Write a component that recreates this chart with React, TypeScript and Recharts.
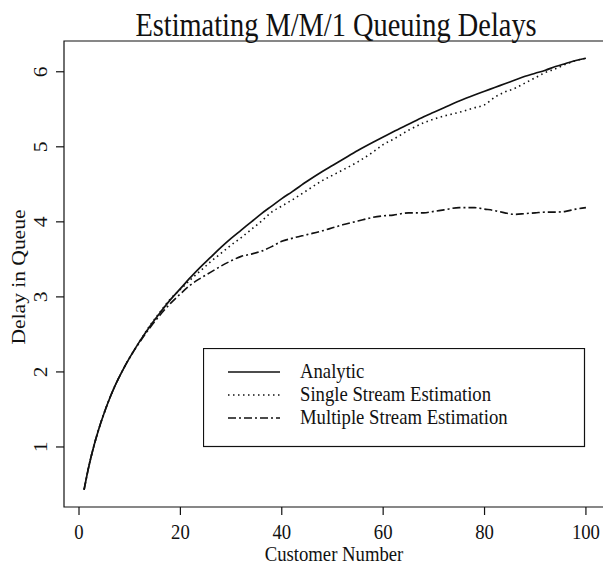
import React from 'react';
import { LineChart, Line, XAxis, YAxis, Legend, ReferenceArea } from 'recharts';

const customers = [
  1, 2, 3, 4, 5, 6, 7, 8, 9, 10, 12, 14, 16, 18, 20, 22, 24, 26, 28, 30, 32, 34, 36, 38, 40, 42, 45, 48, 50,
  52, 55, 58, 60, 62, 65, 68, 70, 72, 75, 78, 80, 82, 84, 86, 88, 90, 92, 94, 96, 98, 100,
];

const analytic = [
  0.43, 0.76, 1.03, 1.26, 1.46, 1.64, 1.8, 1.94, 2.07, 2.19, 2.41, 2.61, 2.79, 2.96, 3.11, 3.26, 3.4, 3.53,
  3.66, 3.78, 3.89, 4.0, 4.11, 4.21, 4.31, 4.4, 4.54, 4.67, 4.75, 4.83, 4.95, 5.06, 5.13, 5.2, 5.3, 5.4,
  5.46, 5.52, 5.61, 5.69, 5.74, 5.79, 5.84, 5.89, 5.94, 5.98, 6.02, 6.07, 6.11, 6.15, 6.18,
];

const singleStream = [
  0.43, 0.76, 1.03, 1.26, 1.46, 1.64, 1.8, 1.94, 2.07, 2.19, 2.41, 2.62, 2.8, 2.97, 3.1, 3.23, 3.35, 3.47,
  3.58, 3.69, 3.79, 3.9, 4.01, 4.13, 4.21, 4.29, 4.42, 4.55, 4.62, 4.69, 4.8, 4.93, 5.03, 5.1, 5.22, 5.32,
  5.37, 5.41, 5.46, 5.52, 5.56, 5.66, 5.73, 5.78, 5.85, 5.92, 5.99, 6.04, 6.1, 6.15, 6.18,
];

const multipleStream = [
  0.43, 0.76, 1.03, 1.26, 1.46, 1.64, 1.8, 1.94, 2.07, 2.19, 2.4, 2.59, 2.76, 2.91, 3.04, 3.16, 3.25, 3.33,
  3.41, 3.48, 3.54, 3.57, 3.61, 3.67, 3.74, 3.78, 3.83, 3.88, 3.92, 3.96, 4.01, 4.06, 4.08, 4.09, 4.12, 4.12,
  4.14, 4.16, 4.19, 4.19, 4.17, 4.15, 4.12, 4.1, 4.11, 4.12, 4.13, 4.13, 4.14, 4.17, 4.19,
];

const xTicks = [0, 20, 40, 60, 80, 100];
const yTicks = [1, 2, 3, 4, 5, 6];
const seriesNames = ['Analytic', 'Single Stream Estimation', 'Multiple Stream Estimation'];

const data = customers.map((n, i) => ({
  n,
  analytic: analytic[i],
  single: singleStream[i],
  multiple: multipleStream[i],
}));

const FONT = '"Liberation Serif", "Times New Roman", serif';
const INK = '#111';
const STRETCH = 1.15; // the scan is a bit taller than wide

const dashes: Record<string, string | undefined> = {
  Analytic: undefined,
  'Single Stream Estimation': '1.5 3.5',
  'Multiple Stream Estimation': '8 3 2 3',
};

const XTick = (props: any) => {
  const { x, y, payload } = props;
  return (
    <text
      transform={`translate(${x},${y + 24}) scale(1,${STRETCH})`}
      textAnchor="middle"
      fontFamily={FONT}
      fontSize={18.7}
      fill={INK}
    >
      {payload.value}
    </text>
  );
};

const YTick = (props: any) => {
  const { x, y, payload } = props;
  return (
    <text
      transform={`translate(${x - 9},${y}) scale(1,${STRETCH}) rotate(-90)`}
      textAnchor="middle"
      fontFamily={FONT}
      fontSize={18.7}
      fill={INK}
    >
      {payload.value}
    </text>
  );
};

const LegendBox = (props: any) => {
  // keep the order the series were plotted in, not alphabetical
  const items = [...(props.payload || [])].sort(
    (a: any, b: any) => seriesNames.indexOf(a.value) - seriesNames.indexOf(b.value),
  );
  const rows = [24, 47, 70];
  return (
    <svg width={383} height={100} style={{ display: 'block' }}>
      <rect x={0.5} y={0.5} width={381} height={98} fill="#fff" stroke={INK} strokeWidth={1.2} />
      {items.map((entry: any, i: number) => (
        <g key={entry.value}>
          <line
            x1={25}
            x2={77}
            y1={rows[i]}
            y2={rows[i]}
            stroke={INK}
            strokeWidth={1.5}
            strokeDasharray={dashes[entry.value]}
          />
          <text
            transform={`translate(97,${rows[i] + 6}) scale(1,${STRETCH})`}
            fontFamily={FONT}
            fontSize={18.7}
            fill={INK}
          >
            {entry.value}
          </text>
        </g>
      ))}
    </svg>
  );
};

export default function App() {
  return (
    <div
      style={{
        position: 'absolute',
        left: 0,
        top: 0,
        width: 603,
        height: 569,
        overflow: 'hidden',
        background: '#fff',
      }}
    >
      <LineChart width={612} height={569} data={data} margin={{ top: 41, right: 6, bottom: 0, left: 0 }}>
        <XAxis
          dataKey="n"
          type="number"
          domain={[-2.96, 103.96]}
          ticks={xTicks}
          height={62}
          axisLine={false}
          tickSize={8}
          tickMargin={0}
          tickLine={{ stroke: INK, strokeWidth: 1.2 }}
          tick={<XTick />}
          allowDataOverflow
        />
        <YAxis
          type="number"
          domain={[0.2, 6.41]}
          ticks={yTicks}
          width={64}
          axisLine={false}
          tickSize={8}
          tickMargin={0}
          tickLine={{ stroke: INK, strokeWidth: 1.2 }}
          tick={<YTick />}
          allowDataOverflow
        />
        <ReferenceArea
          x1={-2.96}
          x2={103.96}
          y1={0.2}
          y2={6.41}
          fill="none"
          fillOpacity={0}
          stroke={INK}
          strokeWidth={1.2}
          ifOverflow="visible"
        />
        <Line
          name={seriesNames[0]}
          dataKey="analytic"
          type="monotone"
          stroke={INK}
          strokeWidth={1.7}
          dot={false}
          isAnimationActive={false}
        />
        <Line
          name={seriesNames[1]}
          dataKey="single"
          type="monotone"
          stroke={INK}
          strokeWidth={1.6}
          strokeDasharray={dashes[seriesNames[1]]}
          dot={false}
          isAnimationActive={false}
        />
        <Line
          name={seriesNames[2]}
          dataKey="multiple"
          type="monotone"
          stroke={INK}
          strokeWidth={1.6}
          strokeDasharray={dashes[seriesNames[2]]}
          dot={false}
          isAnimationActive={false}
        />
        <Legend
          layout="vertical"
          align="center"
          verticalAlign="middle"
          content={<LegendBox />}
          wrapperStyle={{ left: 203, top: 348, width: 383, height: 100 }}
        />
      </LineChart>
      <svg
        width={603}
        height={569}
        style={{ position: 'absolute', left: 0, top: 0, pointerEvents: 'none' }}
      >
        <text
          transform={`translate(336,36) scale(1,1.22)`}
          textAnchor="middle"
          fontFamily={FONT}
          fontSize={28.4}
          fill={INK}
        >
          Estimating M/M/1 Queuing Delays
        </text>
        <text
          transform={`translate(334,561) scale(1,${STRETCH})`}
          textAnchor="middle"
          fontFamily={FONT}
          fontSize={18.7}
          fill={INK}
        >
          Customer Number
        </text>
        <text
          transform={`translate(25,277) scale(1,${STRETCH}) rotate(-90)`}
          textAnchor="middle"
          fontFamily={FONT}
          fontSize={18.7}
          fill={INK}
        >
          Delay in Queue
        </text>
      </svg>
    </div>
  );
}
